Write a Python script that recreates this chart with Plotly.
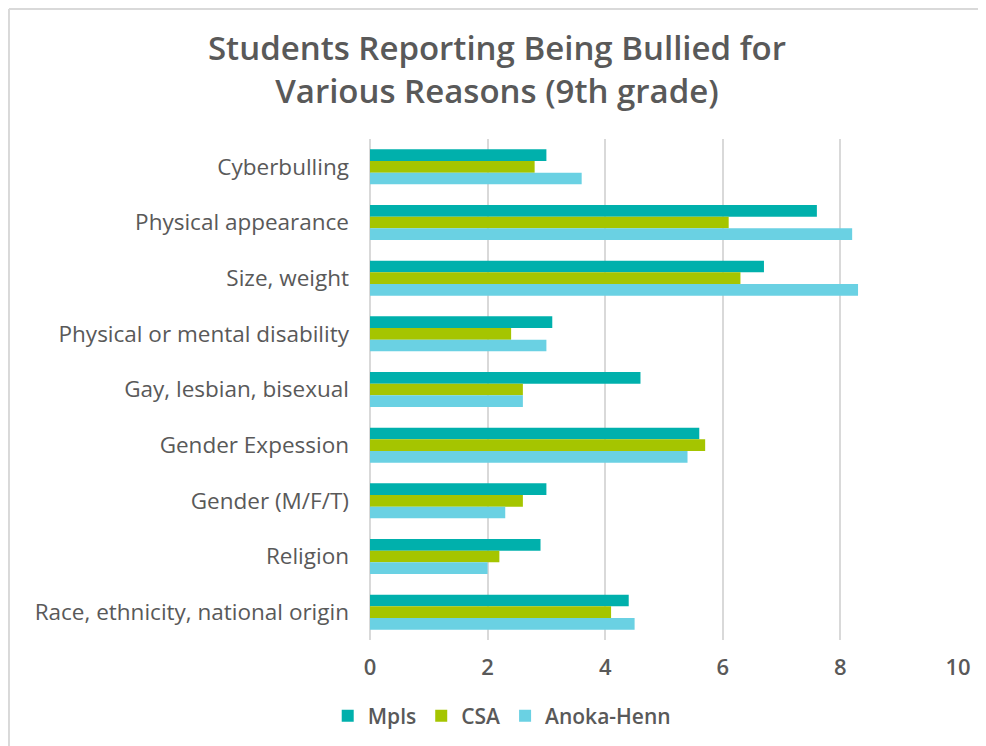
import plotly.graph_objects as go

categories = ["Cyberbulling", "Physical appearance", "Size, weight",
              "Physical or mental disability", "Gay, lesbian, bisexual",
              "Gender Expession", "Gender (M/F/T)", "Religion",
              "Race, ethnicity, national origin"]
mpls = [3.0, 7.6, 6.7, 3.1, 4.6, 5.6, 3.0, 2.9, 4.4]
csa = [2.8, 6.1, 6.3, 2.4, 2.6, 5.7, 2.6, 2.2, 4.1]
anoka = [3.6, 8.2, 8.3, 3.0, 2.6, 5.4, 2.3, 2.0, 4.5]
series_names = ["Mpls", "CSA", "Anoka-Henn"]
colors = ["#00B0AC", "#A5C500", "#6AD1E3"]

fig = go.Figure()
for name, vals, col in zip(series_names, [mpls, csa, anoka], colors):
    fig.add_trace(go.Bar(y=categories, x=vals, name=name, orientation="h",
                         marker=dict(color=col, line=dict(width=0))))

border = dict(color="#D9D9D9", width=2)
fig.update_layout(
    width=978, height=738,
    barmode="group", bargap=0.37, bargroupgap=0,
    paper_bgcolor="white", plot_bgcolor="white",
    font=dict(family="Open Sans, sans-serif", color="#595959"),
    title=dict(text="Students Reporting Being Bullied for<br>Various Reasons (9th grade)",
               x=0.5, xref="container", xanchor="center", y=0.93, yanchor="middle",
               font=dict(size=33, color="#595959", family="Open Sans, sans-serif", weight=600)),
    margin=dict(l=362, r=28, t=131, b=106, autoexpand=False),
    xaxis=dict(range=[0, 10], dtick=2, showgrid=True, gridcolor="#D9D9D9",
               gridwidth=2, zeroline=True, zerolinecolor="#D9D9D9", zerolinewidth=2,
               tickfont=dict(size=22, color="#595959", weight=600), ticks="",
               ticklabelstandoff=12),
    yaxis=dict(autorange="reversed", tickfont=dict(size=22.5, color="#595959"),
               ticks="", showline=False, ticklabelstandoff=20),
    legend=dict(orientation="h", x=0.224, xanchor="center",
                y=-0.152, yanchor="middle",
                font=dict(size=21, color="#595959", weight=600), traceorder="normal",
                itemwidth=30),
    shapes=[
        dict(type="line", xref="paper", yref="paper", x0=-0.614, x1=1.1,
             y0=1.2595, y1=1.2595, line=border),
        dict(type="line", xref="paper", yref="paper", x0=-0.614, x1=-0.614,
             y0=-0.4, y1=1.2595, line=border),
    ],
)
fig.write_html("out.html")
